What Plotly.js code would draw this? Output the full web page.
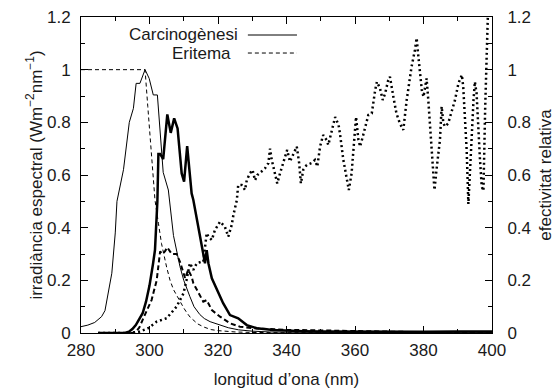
<!DOCTYPE html>
<html>
<head>
<meta charset="utf-8">
<script src="https://cdn.plot.ly/plotly-3.0.1.min.js"></script>
<style>html,body{margin:0;padding:0;background:#fff;}#chart{width:555px;height:389px;}</style>
</head>
<body>
<div id="chart"></div>
<script>
// Carcinogenesis action spectrum (thin solid)
const carcX = [280,282,284,286,287,288,289,290,290.5,292.4,294.1,295.3,296.1,297.2,298.7,299.9,301.1,302.3,304,305.5,307,308.9,310,311.8,313,314.7,316,317.7,320.6,323,326,330,335,340,360,400];
const carcY = [0.024,0.03,0.04,0.062,0.085,0.15,0.227,0.38,0.5,0.62,0.80,0.853,0.948,0.948,1.0,0.967,0.904,0.904,0.61,0.543,0.37,0.252,0.2,0.138,0.1,0.07,0.055,0.043,0.03,0.02,0.012,0.007,0.004,0.003,0.002,0.001];

// Erythema action spectrum (thin dashed)
const eritX = [280,285,290,295,298.7,299.5,300.5,301.6,302.6,303.5,305,306,307,308,309,310,311,312,313,314,316,318,320,325,330,340,400];
const eritY = [1,1,1,1,1,0.86,0.68,0.505,0.417,0.34,0.25,0.2,0.165,0.14,0.12,0.095,0.075,0.058,0.047,0.035,0.022,0.013,0.009,0.004,0.002,0.001,0.0003];

// Spectral irradiance (thick solid)
const irrX = [285,290,293,294,295,296,297,298,299,300,301,301.6,302.3,302.6,303.1,304,305.2,306.2,307.2,308.2,309.4,310.1,311,312.3,312.8,314,315.2,316.2,316.7,317.2,318.2,319.6,321.5,323.5,325.9,328.4,331.3,336.1,340,345,350,360,370,380,390,400];
const irrY = [0,0,0.001,0.005,0.015,0.03,0.05,0.075,0.12,0.18,0.26,0.315,0.5,0.68,0.68,0.66,0.83,0.76,0.815,0.777,0.606,0.575,0.71,0.53,0.505,0.42,0.34,0.265,0.315,0.265,0.208,0.17,0.113,0.068,0.056,0.03,0.018,0.011,0.008,0.007,0.006,0.005,0.006,0.005,0.006,0.006];

// Weighted irradiance (thick dashed)
const wX = [285,295,296,297,298,299,300,300.6,301.3,302.1,303.1,303.8,304.5,305.2,306.5,307.9,308.9,310.4,311.3,312.3,312.8,314.3,315.7,316.7,318.2,320.6,323.5,326.4,330.3,340,350,360,370,380,400];
const wY = [0,0,0.005,0.02,0.05,0.08,0.11,0.125,0.16,0.2,0.31,0.3,0.31,0.325,0.3,0.3,0.27,0.208,0.24,0.214,0.189,0.151,0.119,0.125,0.087,0.062,0.037,0.024,0.018,0.012,0.01,0.008,0.004,0.003,0.002];

// Relative effectiveness (dotted)
const effX = [285,290,294.3,297,299.6,302.1,305,307.9,309.9,310.8,311.3,311.8,312.8,313.8,315,315.7,316.7,317.2,318.2,319.1,320.6,322,323,324,324.5,325.5,325.9,326.9,327.9,328.4,329.3,330.1,330.8,331.5,332.7,333.7,334.7,335.2,335.7,336.6,337.3,338.1,339.6,340.2,341,342,343,343.7,344.2,344.9,345.9,347.3,348.3,349,349.8,350.7,351.7,352.2,353.2,354.2,355.2,355.6,356.6,357.6,358.2,359,359.5,360,360.3,361,361.5,362.4,363.9,364.9,365.4,365.9,366.4,367.3,368.1,368.8,369.7,370.2,371.2,372.1,373.1,374.1,375.1,376.5,377.5,378,378.5,379,379.5,380,380.4,380.9,381.4,381.9,382.4,382.9,383.2,383.8,384.8,385.3,385.8,386.3,387.2,388.2,389.2,390.2,391.2,391.6,392.1,392.6,393.1,393.6,394.1,394.6,395,395.5,396,396.5,397,397.5,398,398.6,399];
const effY = [0,0,0,0.005,0.018,0.043,0.056,0.1,0.15,0.2,0.227,0.265,0.24,0.265,0.27,0.27,0.379,0.366,0.353,0.391,0.423,0.404,0.366,0.41,0.448,0.505,0.562,0.562,0.543,0.58,0.606,0.619,0.58,0.6,0.613,0.625,0.645,0.70,0.657,0.606,0.568,0.606,0.67,0.695,0.651,0.68,0.708,0.645,0.568,0.62,0.638,0.645,0.657,0.632,0.708,0.752,0.733,0.714,0.765,0.82,0.79,0.758,0.657,0.58,0.543,0.606,0.695,0.758,0.82,0.733,0.708,0.752,0.828,0.834,0.885,0.923,0.954,0.929,0.885,0.91,0.96,0.973,0.897,0.834,0.796,0.771,0.885,1.01,1.075,1.12,1.05,0.986,0.923,0.897,0.923,0.967,0.885,0.784,0.682,0.606,0.543,0.62,0.733,0.86,0.796,0.784,0.796,0.84,0.885,0.948,0.98,0.935,0.82,0.695,0.49,0.6,0.75,0.885,0.954,0.91,0.758,0.657,0.556,0.54,0.85,1.19,1.3];

const xTicks = [280,300,320,340,360,380,400];
const yTicks = [0,0.2,0.4,0.6,0.8,1,1.2];
const yTickText = ['0','0.2','0.4','0.6','0.8','1','1.2'];

const legendNames = ['Carcinogènesi','Eritema'];
const xTitle = 'longitud d’ona (nm)';
const yTitle = 'irradiància espectral (Wm<sup>−2</sup>nm<sup>−1</sup>)';
const y2Title = 'efectivitat relativa';

const FONT = 'Liberation Sans, Arial, Helvetica, sans-serif';
const TXT = '#1a1a1a';

const traces = [
  {x: carcX, y: carcY, yaxis: 'y2', mode: 'lines', line: {color: '#000', width: 1}, name: legendNames[0]},
  {x: eritX, y: eritY, yaxis: 'y2', mode: 'lines', line: {color: '#000', width: 1, dash: '4px,3px'}, name: legendNames[1]},
  {x: irrX, y: irrY, mode: 'lines', line: {color: '#000', width: 2.5}},
  {x: wX, y: wY, mode: 'lines', line: {color: '#000', width: 2, dash: '5px,3px'}},
  {x: effX, y: effY, mode: 'lines', line: {color: '#000', width: 2.5, dash: '2px,3px'}}
];

const axisCommon = {
  showline: true, linecolor: '#000', linewidth: 1,
  ticks: 'inside', ticklen: 7, tickwidth: 1, tickcolor: '#000',
  showgrid: false, zeroline: false,
  tickfont: {family: FONT, size: 17, color: TXT}
};

const layout = {
  width: 555, height: 389,
  margin: {l: 81, r: 63, t: 17, b: 56},
  paper_bgcolor: '#fff', plot_bgcolor: '#fff',
  showlegend: false,
  font: {family: FONT, size: 17, color: TXT},
  xaxis: Object.assign({}, axisCommon, {
    range: [280, 400], tickvals: xTicks, mirror: 'ticks',
    minor: {ticks: 'inside', ticklen: 4, dtick: 10, tick0: 280, tickcolor: '#000'},
    ticklabelstandoff: 2,
    title: {text: xTitle, font: {family: FONT, size: 17, color: TXT}, standoff: 16}
  }),
  yaxis: Object.assign({}, axisCommon, {
    range: [0, 1.2], tickvals: yTicks, ticktext: yTickText,
    minor: {ticks: 'inside', ticklen: 4, dtick: 0.1, tick0: 0, tickcolor: '#000'},
    ticklabelstandoff: 6,
    title: {text: yTitle, font: {family: FONT, size: 17, color: TXT}, standoff: 0}
  }),
  yaxis2: Object.assign({}, axisCommon, {
    range: [0, 1.2], tickvals: yTicks, ticktext: yTickText, overlaying: 'y', side: 'right',
    minor: {ticks: 'inside', ticklen: 4, dtick: 0.1, tick0: 0, tickcolor: '#000'},
    ticklabelstandoff: 11,
    title: {text: y2Title, font: {family: FONT, size: 17, color: TXT}, standoff: 13}
  }),
  annotations: [
    {xref: 'paper', yref: 'paper', x: 0.3865, y: 0.9446, xanchor: 'right', yanchor: 'middle', text: legendNames[0], showarrow: false, font: {family: FONT, size: 17, color: TXT}},
    {xref: 'paper', yref: 'paper', x: 0.3705, y: 0.886, xanchor: 'right', yanchor: 'middle', text: legendNames[1], showarrow: false, font: {family: FONT, size: 17, color: TXT}}
  ],
  shapes: [
    {type: 'line', xref: 'paper', yref: 'paper', x0: 0.406, x1: 0.5255, y0: 0.943, y1: 0.943, line: {color: '#000', width: 1}},
    {type: 'line', xref: 'paper', yref: 'paper', x0: 0.406, x1: 0.5255, y0: 0.886, y1: 0.886, line: {color: '#000', width: 1, dash: '4px,3px'}}
  ]
};

Plotly.newPlot('chart', traces, layout, {staticPlot: true, displayModeBar: false});
</script>
</body>
</html>
